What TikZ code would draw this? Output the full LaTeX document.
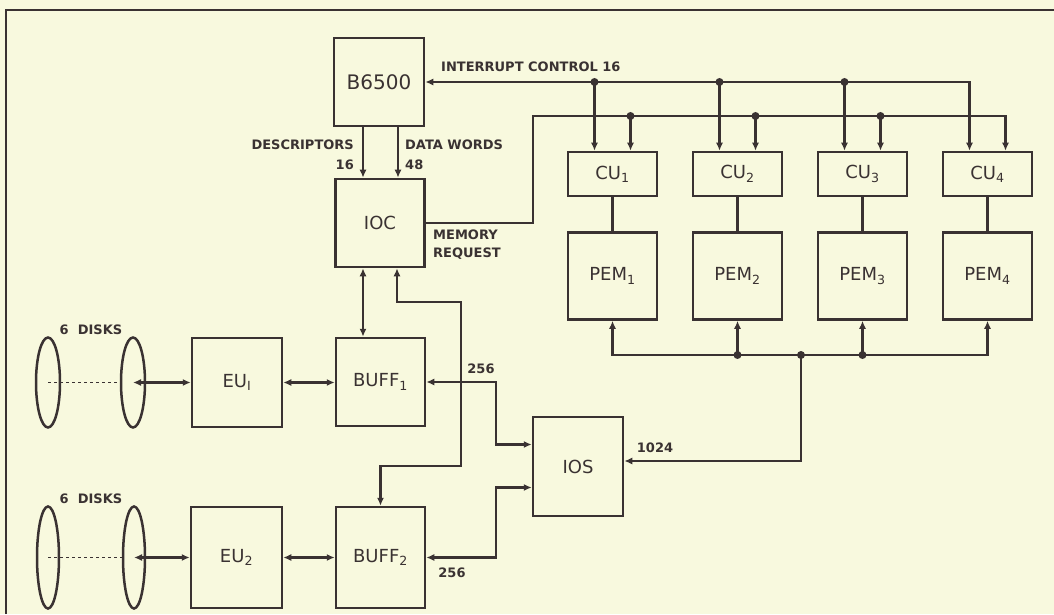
\documentclass[tikz,border=0pt]{standalone}
\usepackage{fontspec}
\setmainfont{DejaVu Sans}
\usepackage{xcolor}
\usetikzlibrary{arrows.meta,positioning,shapes.geometric}
\definecolor{ilInk}{HTML}{3A3232}
\definecolor{ilPaper}{HTML}{F8F9DE}
\tikzset{
  unit/.style={
    draw=ilInk,
    line width=2.5pt,
    fill=ilPaper,
    text=ilInk,
    align=center,
    minimum width=89pt,
    minimum height=88pt,
    inner sep=0pt,
    font=\fontsize{18}{20}\selectfont
  },
  cubox/.style={unit, minimum height=44pt},
  disk/.style={
    ellipse,
    draw=ilInk,
    line width=2.5pt,
    minimum width=24pt,
    minimum height=90pt,
    inner sep=0pt
  },
  tag/.style={text=ilInk, inner sep=1pt, align=left, font=\bfseries\fontsize{13}{18}\selectfont},
  wire/.style={line width=2.5pt, draw=ilInk},
  arrow/.style={wire, -{Latex[length=8pt,width=7pt]}},
  twoway/.style={wire, {Latex[length=8pt,width=7pt]}-{Latex[length=8pt,width=7pt]}},
  dashwire/.style={wire, line width=1.8pt, dashed},
  dot/.style={circle, fill=ilInk, inner sep=0pt, minimum size=8pt}
}

\begin{document}
\begin{tikzpicture}[x=1pt, y=1pt]
  \path[use as bounding box, fill=ilPaper] (0,0) rectangle (1054,614);
  \draw[wire, line width=1.8pt] (6,0) -- (6,604) -- (1054,604);

  % host and I/O controller
  \node[unit, minimum width=90pt, font=\fontsize{20}{22}\selectfont] (b6500) at (379,532) {B6500};
  \node[unit] (ioc) at (380,391) {IOC};

  % control units and memories
  \node[cubox] (cu1) at (612.5,440) {CU\textsubscript{1}};
  \node[cubox] (cu2) at (737.5,440) {CU\textsubscript{2}};
  \node[cubox] (cu3) at (862.5,440) {CU\textsubscript{3}};
  \node[cubox] (cu4) at (987.5,440) {CU\textsubscript{4}};
  \node[unit, below=34pt of cu1, minimum height=87pt] (pem1) {PEM\textsubscript{1}};
  \node[unit, below=34pt of cu2, minimum height=87pt] (pem2) {PEM\textsubscript{2}};
  \node[unit, below=34pt of cu3, minimum height=87pt] (pem3) {PEM\textsubscript{3}};
  \node[unit, below=34pt of cu4, minimum height=87pt] (pem4) {PEM\textsubscript{4}};

  % disk rows
  \node[disk] (disk1a) at (48,231.5) {};
  \node[disk] (disk1b) at (133,231.5) {};
  \node[unit, minimum width=90pt, minimum height=89pt] (eu1) at (237,231.5) {EU\textsubscript{I}};
  \node[unit] (buff1) at (380.5,232) {BUFF\textsubscript{1}};
  \node[disk, minimum width=22pt, minimum height=102pt] (disk2a) at (48,56.5) {};
  \node[disk, minimum width=22pt, minimum height=102pt] (disk2b) at (134,56.5) {};
  \node[unit, minimum width=91pt, minimum height=101pt] (eu2) at (236.5,56.5) {EU\textsubscript{2}};
  \node[unit, minimum height=101pt] (buff2) at (380.5,56.5) {BUFF\textsubscript{2}};
  \node[unit, minimum width=90pt, minimum height=99pt] (ios) at (578,147.5) {IOS};

  % labels
  \node[tag, anchor=west] (intlabel) at (440,547) {INTERRUPT CONTROL 16};
  \node[tag, anchor=east] (desclabel) at (355,469) {DESCRIPTORS};
  \node[tag, anchor=east] (descbits) at (355,449) {16};
  \node[tag, anchor=west] (datalabel) at (404,469) {DATA WORDS};
  \node[tag, anchor=west] (databits) at (404,449) {48};
  \node[tag, anchor=west] (memlabel) at (432,369) {MEMORY\\REQUEST};
  \node[tag] (buff1bits) at (481,245) {256};
  \node[tag] (buff2bits) at (452,41) {256};
  \node[tag] (iosbits) at (655,166) {1024};
  \node[tag] (disk1label) at (91,284) {6\ \ DISKS};
  \node[tag] (disk2label) at (91,115) {6\ \ DISKS};

  \coordinate (cu1int) at ([xshift=-18pt]cu1.north);
  \coordinate (cu2int) at ([xshift=-18pt]cu2.north);
  \coordinate (cu3int) at ([xshift=-18pt]cu3.north);
  \coordinate (cu4int) at ([xshift=-18pt]cu4.north);
  \coordinate (cu1mem) at ([xshift=18pt]cu1.north);
  \coordinate (cu2mem) at ([xshift=18pt]cu2.north);
  \coordinate (cu3mem) at ([xshift=18pt]cu3.north);
  \coordinate (cu4mem) at ([xshift=18pt]cu4.north);
  \coordinate (memturn) at (533,498);
  \coordinate (pembus) at (801,259);
  \coordinate (crossa) at (461,312);
  \coordinate (crossb) at (461,148);
  \coordinate (iosin1) at ([yshift=22pt]ios.west);
  \coordinate (iosin2) at ([yshift=-21pt]ios.west);

  % interrupt control
  \draw[twoway] (cu4int) |- (b6500.east);
  \draw[arrow] (cu1int |- b6500.east) node[dot] (int1) {} -- (cu1int);
  \draw[arrow] (cu2int |- b6500.east) node[dot] (int2) {} -- (cu2int);
  \draw[arrow] (cu3int |- b6500.east) node[dot] (int3) {} -- (cu3int);

  % memory request
  \draw[arrow] (ioc.east) -| (memturn) -| (cu4mem);
  \draw[arrow] (cu1mem |- memturn) node[dot] (mem1) {} -- (cu1mem);
  \draw[arrow] (cu2mem |- memturn) node[dot] (mem2) {} -- (cu2mem);
  \draw[arrow] (cu3mem |- memturn) node[dot] (mem3) {} -- (cu3mem);

  \draw[wire] (cu1) -- (pem1);
  \draw[wire] (cu2) -- (pem2);
  \draw[wire] (cu3) -- (pem3);
  \draw[wire] (cu4) -- (pem4);

  % memory bus to IOS
  \draw[twoway] (pem1.south) |- (pembus) -| (pem4.south);
  \draw[arrow] (pem2.south |- pembus) node[dot] (pj2) {} -- (pem2.south);
  \draw[arrow] (pem3.south |- pembus) node[dot] (pj3) {} -- (pem3.south);
  \draw[arrow] (pembus) node[dot] (pj0) {} |- ([yshift=5.5pt]ios.east);

  % B6500 to IOC
  \draw[arrow] ([xshift=-17pt]ioc.north |- b6500.south) -- ([xshift=-17pt]ioc.north);
  \draw[arrow] ([xshift=18pt]ioc.north |- b6500.south) -- ([xshift=18pt]ioc.north);

  % IOC to buffers
  \draw[twoway] ([xshift=-17pt]ioc.south) -- ([xshift=-17pt]ioc.south |- buff1.north);
  \draw[twoway] ([xshift=17pt]ioc.south) |- (crossa) -- (crossb) -| (buff2.north);

  % disks, EUs, buffers
  \draw[dashwire] (disk1a.center) -- (disk1b.west);
  \draw[twoway] (disk1b.center) -- (eu1.west);
  \draw[twoway] (eu1.east) -- (eu1.east -| buff1.west);
  \draw[dashwire] (disk2a.center) -- (disk2b.west);
  \draw[twoway] (disk2b.center) -- (eu2.west);
  \draw[twoway] (eu2.east) -- (eu2.east -| buff2.west);

  % buffers to IOS
  \draw[twoway] (buff1.east) -| ([xshift=-36pt]iosin1) -- (iosin1);
  \draw[twoway] (buff2.east) -| ([xshift=-36pt]iosin2) -- (iosin2);
\end{tikzpicture}
\end{document}
